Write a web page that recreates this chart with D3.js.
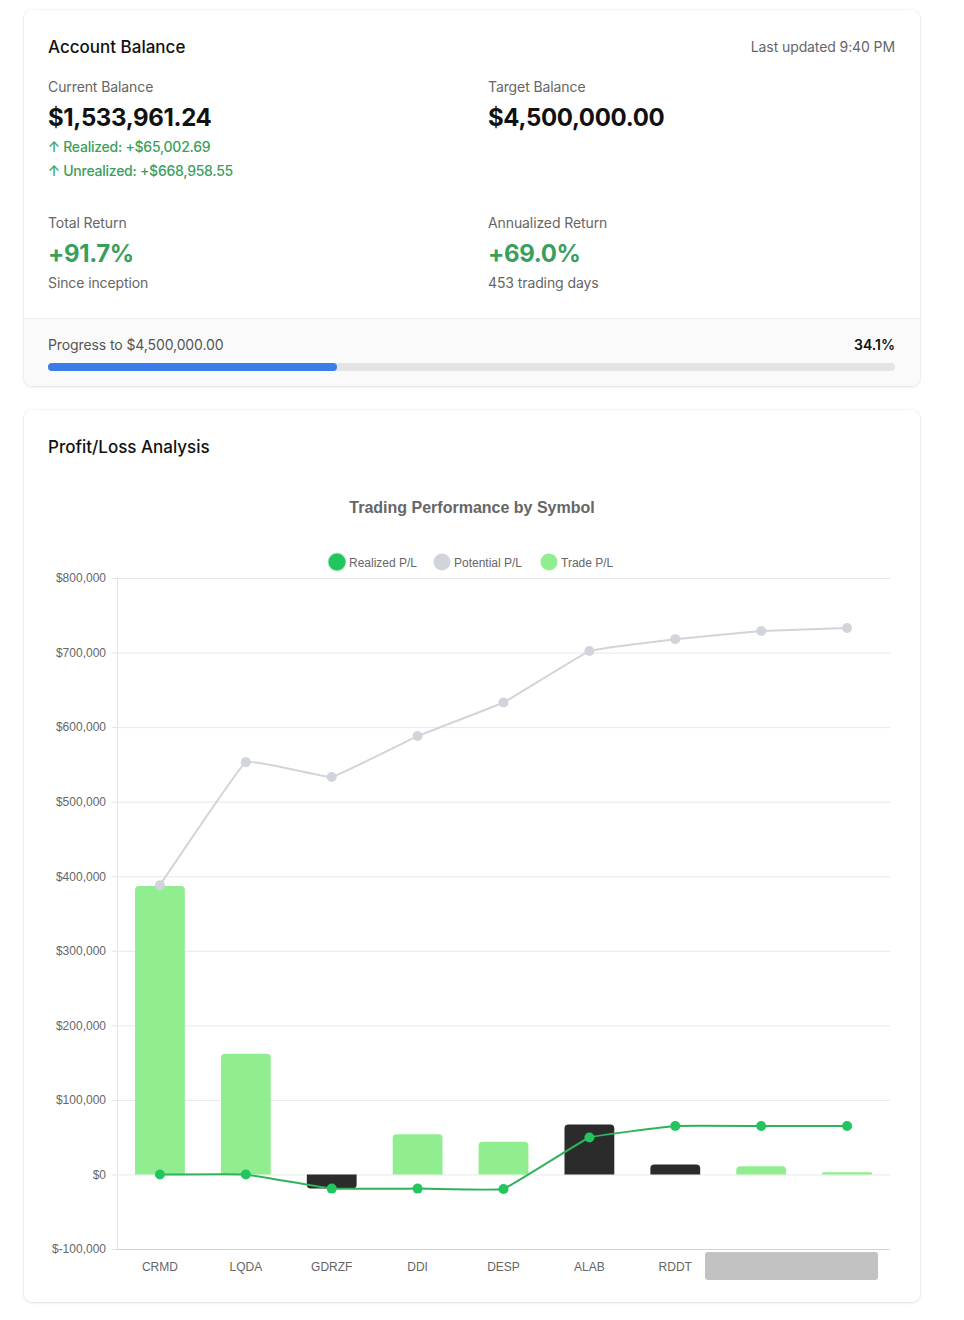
<!DOCTYPE html>
<html>
<head>
<meta charset="utf-8">
<script src="https://cdn.jsdelivr.net/npm/d3@7/dist/d3.min.js"></script>
<style>
  html, body { margin: 0; padding: 0; background: #ffffff; }
  body { width: 964px; height: 1320px; position: relative; font-family: Inter, "Noto Sans", sans-serif; }
  .card { position: absolute; left: 24px; width: 896px; background: #fff; border-radius: 8px;
          box-shadow: 0 1px 3px rgba(0,0,0,0.10), 0 0 0 1px rgba(0,0,0,0.03); overflow: hidden; }
  .t { position: absolute; white-space: nowrap; line-height: 1; }
  .h { font-size: 17px; color: #111; font-weight: 500; }
  .lbl { font-size: 14px; color: #666; letter-spacing: -0.1px; }
  .big { font-size: 24px; font-weight: 700; color: #111; letter-spacing: -0.35px; }
  .grn { color: #3a9f5c; }
  .chg { font-size: 14px; font-weight: 500; color: #3a9f5c; letter-spacing: -0.25px; }
  .prog { position: absolute; left: 0; top: 308px; width: 896px; height: 68px; background: #fafafa; border-top: 1px solid #f0f0f0; }
</style>
</head>
<body>
<div class="card" id="card1" style="top:10px;height:376px;"></div>
<div class="card" id="card2" style="top:410px;height:892px;"></div>
<script>
// ---------- data ----------
const summaryLabels = ["Current Balance", "Target Balance", "Total Return", "Annualized Return"];
const summaryValues = ["$1,533,961.24", "$4,500,000.00", "+91.7%", "+69.0%"];
const summaryNotes = ["Since inception", "453 trading days"];
const realizedText = "↑ Realized: +$65,002.69";
const unrealizedText = "↑ Unrealized: +$668,958.55";
const progressPct = 34.1;

const symbols = ["CRMD", "LQDA", "GDRZF", "DDI", "DESP", "ALAB", "RDDT", "", ""];
const tradePL = [387000, 162000, -19000, 54000, 44000, 67000, 13500, 11000, 2800];
const tradeRealized = [false, false, true, false, false, true, true, false, false];
const realizedPL = [0, 0, -19000, -19000, -19500, 49500, 65000, 65003, 65003];
const potentialPL = [388000, 553000, 533000, 588000, 633000, 702000, 718000, 729000, 733000];
const yTicks = [-100000, 0, 100000, 200000, 300000, 400000, 500000, 600000, 700000, 800000];
const legendItems = ["Realized P/L", "Potential P/L", "Trade P/L"];

// ---------- card 1 ----------
const c1 = d3.select("#card1");
function txt(sel, cls, x, y, s) {
  return sel.append("div").attr("class", "t " + cls).style("left", x + "px").style("top", y + "px").text(s);
}
txt(c1, "h", 24, 29, "Account Balance");
c1.append("div").attr("class", "t lbl").style("right", "25px").style("top", "30px").text("Last updated 9:40 PM");
txt(c1, "lbl", 24, 70, summaryLabels[0]);
txt(c1, "big", 24, 96, summaryValues[0]);
txt(c1, "chg", 24, 130, realizedText);
txt(c1, "chg", 24, 154, unrealizedText);
txt(c1, "lbl", 464, 70, summaryLabels[1]);
txt(c1, "big", 464, 96, summaryValues[1]);
txt(c1, "lbl", 24, 206, summaryLabels[2]);
txt(c1, "big grn", 24, 232, summaryValues[2]);
txt(c1, "lbl", 24, 266, summaryNotes[0]);
txt(c1, "lbl", 464, 206, summaryLabels[3]);
txt(c1, "big grn", 464, 232, summaryValues[3]);
txt(c1, "lbl", 464, 266, summaryNotes[1]);
const pg = c1.append("div").attr("class", "prog");
pg.append("div").attr("class", "t lbl").style("left", "24px").style("top", "19px").style("color", "#555").text("Progress to $4,500,000.00");
pg.append("div").attr("class", "t").style("right", "25px").style("top", "19px").style("font-size", "14px").style("font-weight", "600").style("color", "#111").text(progressPct.toFixed(1) + "%");
const track = pg.append("div").style("position", "absolute").style("left", "24px").style("top", "44px")
  .style("width", "847px").style("height", "8px").style("border-radius", "4px").style("background", "#e4e4e4");
track.append("div").style("height", "8px").style("border-radius", "4px").style("background", "#3b7de8")
  .style("width", (847 * progressPct / 100) + "px");

// ---------- card 2 ----------
const c2 = d3.select("#card2");
txt(c2, "h", 24, 29, "Profit/Loss Analysis");

const svg = c2.append("svg").attr("width", 896).attr("height", 892)
  .style("position", "absolute").style("left", 0).style("top", 0)
  .style("font-family", "'Liberation Sans', Arial, sans-serif");

const L = 93, R = 866, T = 168, B = 839;
const x = d3.scaleBand().domain(d3.range(symbols.length)).range([L, R]).paddingInner(0.42).paddingOuter(0.21);
const y = d3.scaleLinear().domain([-100000, 800000]).range([B, T]);
const cx = i => x(i) + x.bandwidth() / 2;

svg.append("text").attr("x", 448).attr("y", 103).attr("text-anchor", "middle")
  .attr("font-size", 16).attr("font-weight", 700).attr("fill", "#666").text("Trading Performance by Symbol");

// legend
const legColors = ["#22c55e", "#d1d5db", "#90ee90"];
const legX = [313, 418, 525];
legendItems.forEach((s, i) => {
  const g = svg.append("g");
  if (i === 0) g.append("circle").attr("cx", legX[i]).attr("cy", 152).attr("r", 9.5).attr("fill", "#22c55e").attr("opacity", 0.3);
  g.append("circle").attr("cx", legX[i]).attr("cy", 152).attr("r", 8.5).attr("fill", legColors[i]);
  g.append("text").attr("x", legX[i] + 12).attr("y", 156.5).attr("font-size", 12).attr("fill", "#666").text(s);
});

// grid + y axis
const yAxis = d3.axisLeft(y).tickValues(yTicks).tickSize(5).tickPadding(6)
  .tickFormat(v => (v < 0 ? "$-" : "$") + d3.format(",")(Math.abs(v)));
const ga = svg.append("g").attr("transform", `translate(${L},0)`).call(yAxis);
ga.select(".domain").attr("stroke", "#e3e3e3");
ga.selectAll(".tick line").attr("stroke", "#e3e3e3");
ga.selectAll(".tick text").attr("font-size", 12).attr("fill", "#666").attr("font-family", "'Liberation Sans', Arial, sans-serif");
svg.append("g").selectAll("line").data(yTicks).join("line")
  .attr("x1", L).attr("x2", R).attr("y1", d => y(d) + 0.5).attr("y2", d => y(d) + 0.5)
  .attr("stroke", d => d === -100000 ? "#d4d4d4" : "#e8e8e8").attr("stroke-width", 1);

// x axis labels
const xAxis = d3.axisBottom(x).tickSize(0).tickPadding(13).tickFormat(i => symbols[i]);
const gx = svg.append("g").attr("transform", `translate(0,${B})`).call(xAxis);
gx.select(".domain").remove();
gx.selectAll(".tick text").attr("font-size", 12).attr("fill", "#666").attr("font-family", "'Liberation Sans', Arial, sans-serif");

// bars with rounded outer end
function barPath(i) {
  const v = tradePL[i], x0 = x(i), w = x.bandwidth();
  const y0 = y(0), y1 = y(v), r = Math.min(4, Math.abs(y1 - y0) / 2);
  if (v >= 0) {
    return `M${x0},${y0}V${y1 + r}Q${x0},${y1} ${x0 + r},${y1}H${x0 + w - r}Q${x0 + w},${y1} ${x0 + w},${y1 + r}V${y0}Z`;
  }
  return `M${x0},${y0}V${y1 - r}Q${x0},${y1} ${x0 + r},${y1}H${x0 + w - r}Q${x0 + w},${y1} ${x0 + w},${y1 - r}V${y0}Z`;
}
svg.append("g").selectAll("path").data(d3.range(symbols.length)).join("path")
  .attr("d", barPath)
  .attr("fill", i => tradeRealized[i] ? "#2b2b2b" : "#90ee90");

// potential line
const line = d3.line().x((d, i) => cx(i)).y(d => y(d)).curve(d3.curveCardinal.tension(0.8));
svg.append("path").datum(potentialPL).attr("d", line).attr("fill", "none").attr("stroke", "#d1d5db").attr("stroke-width", 2);
svg.append("g").selectAll("circle").data(potentialPL).join("circle")
  .attr("cx", (d, i) => cx(i)).attr("cy", d => y(d)).attr("r", 5).attr("fill", "#d1d5db");

// realized line
svg.append("path").datum(realizedPL).attr("d", line).attr("fill", "none").attr("stroke", "#2fb35a").attr("stroke-width", 2);
svg.append("g").selectAll("circle").data(realizedPL).join("circle")
  .attr("cx", (d, i) => cx(i)).attr("cy", d => y(d)).attr("r", 5).attr("fill", "#22c55e");

// grey label cover box
svg.append("rect").attr("x", 681).attr("y", 842).attr("width", 173).attr("height", 28).attr("rx", 3).attr("fill", "#c2c2c2");
</script>
</body>
</html>
